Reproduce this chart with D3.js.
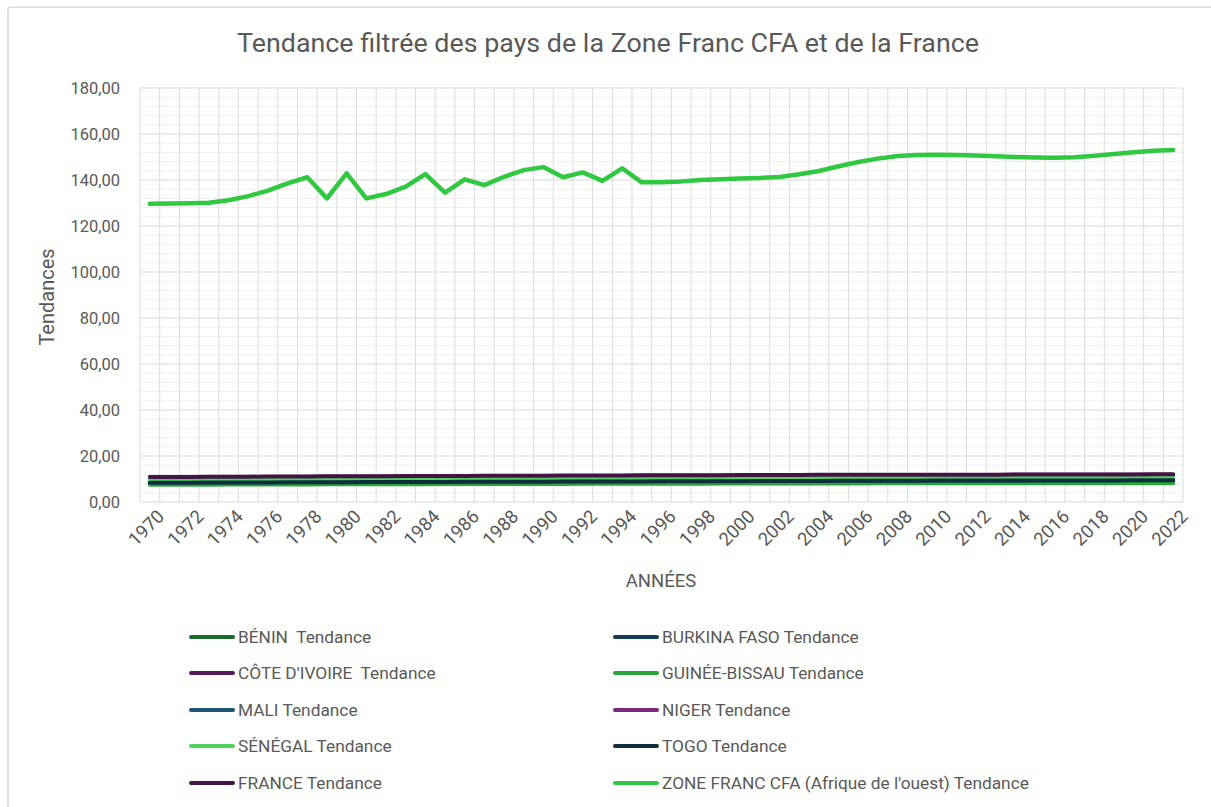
<!DOCTYPE html>
<html><head><meta charset="utf-8">
<script src="https://cdn.jsdelivr.net/npm/d3@7/dist/d3.min.js"></script>
<style>body{margin:0;background:#fff;}svg{display:block;font-family:Roboto,"Open Sans",sans-serif;}</style>
</head><body><svg id="c" width="1211" height="807"></svg>
<script>
const years = d3.range(1970, 2023).map(String);
const yTicks = [0,20,40,60,80,100,120,140,160,180];
const xTickLabels = years.filter((y,i)=>i%2===0);

const zone = [129.7,129.8,129.9,130.1,131.2,133.0,135.4,138.5,141.2,132.0,
142.9,132.0,133.9,137.1,142.6,134.5,140.3,137.8,141.4,144.3,
145.6,141.2,143.3,139.6,145.1,139.0,139.0,139.4,140.0,140.3,
140.6,140.9,141.3,142.5,143.9,146.0,147.8,149.3,150.4,150.9,
151.0,150.9,150.7,150.3,150.0,149.8,149.7,149.9,150.5,151.3,
152.1,152.7,153.0];
const france = [10.9,10.9,10.9,11.0,11.0,11.0,11.1,11.1,11.1,11.2,
11.2,11.2,11.2,11.3,11.3,11.3,11.3,11.4,11.4,11.4,
11.4,11.5,11.5,11.5,11.5,11.6,11.6,11.6,11.6,11.6,
11.7,11.7,11.7,11.7,11.8,11.8,11.8,11.8,11.9,11.9,
11.9,11.9,11.9,11.9,12.0,12.0,12.0,12.0,12.0,12.0,
12.0,12.1,12.1];
const niger = [10.7,10.7,10.7,10.8,10.8,10.8,10.9,10.9,10.9,11.0,
11.0,11.0,11.0,11.1,11.1,11.1,11.1,11.2,11.2,11.2,
11.2,11.3,11.3,11.3,11.3,11.4,11.4,11.4,11.4,11.4,
11.5,11.5,11.5,11.5,11.6,11.6,11.6,11.6,11.7,11.7,
11.7,11.7,11.7,11.7,11.8,11.8,11.8,11.8,11.8,11.8,
11.8,11.9,11.9];
const coteIvoire = [10.5,10.5,10.5,10.6,10.6,10.6,10.7,10.7,10.7,10.8,
10.8,10.8,10.8,10.9,10.9,10.9,10.9,11.0,11.0,11.0,
11.0,11.1,11.1,11.1,11.1,11.2,11.2,11.2,11.2,11.2,
11.3,11.3,11.3,11.3,11.4,11.4,11.4,11.4,11.5,11.5,
11.5,11.5,11.5,11.5,11.6,11.6,11.6,11.6,11.6,11.6,
11.6,11.7,11.7];
const senegal = [9.9,9.9,9.9,9.9,10.0,10.0,10.0,10.0,10.0,10.1,
10.1,10.1,10.1,10.1,10.1,10.2,10.2,10.2,10.2,10.2,
10.2,10.3,10.3,10.3,10.3,10.3,10.3,10.3,10.4,10.4,
10.4,10.4,10.4,10.4,10.4,10.5,10.5,10.5,10.5,10.5,
10.5,10.5,10.5,10.5,10.6,10.6,10.6,10.6,10.6,10.6,
10.6,10.6,10.6];
const mali = [8.5,8.5,8.5,8.6,8.6,8.6,8.6,8.7,8.7,8.7,
8.7,8.8,8.8,8.8,8.8,8.8,8.9,8.9,8.9,8.9,
8.9,9.0,9.0,9.0,9.0,9.0,9.1,9.1,9.1,9.1,
9.1,9.2,9.2,9.2,9.2,9.3,9.3,9.3,9.3,9.3,
9.4,9.4,9.4,9.4,9.4,9.5,9.5,9.5,9.5,9.5,
9.6,9.6,9.6];
const togo = [8.4,8.4,8.4,8.5,8.5,8.5,8.5,8.6,8.6,8.6,
8.6,8.7,8.7,8.7,8.7,8.7,8.8,8.8,8.8,8.8,
8.8,8.9,8.9,8.9,8.9,8.9,9.0,9.0,9.0,9.0,
9.0,9.1,9.1,9.1,9.1,9.2,9.2,9.2,9.2,9.2,
9.3,9.3,9.3,9.3,9.3,9.4,9.4,9.4,9.4,9.4,
9.5,9.5,9.5];
const burkina = [8.3,8.3,8.3,8.4,8.4,8.4,8.4,8.5,8.5,8.5,
8.5,8.6,8.6,8.6,8.6,8.6,8.7,8.7,8.7,8.7,
8.7,8.8,8.8,8.8,8.8,8.8,8.9,8.9,8.9,8.9,
8.9,9.0,9.0,9.0,9.0,9.1,9.1,9.1,9.1,9.1,
9.2,9.2,9.2,9.2,9.2,9.3,9.3,9.3,9.3,9.3,
9.4,9.4,9.4];
const benin = [8.0,8.0,8.0,8.1,8.1,8.1,8.1,8.2,8.2,8.2,
8.2,8.3,8.3,8.3,8.3,8.3,8.4,8.4,8.4,8.4,
8.4,8.5,8.5,8.5,8.5,8.5,8.6,8.6,8.6,8.6,
8.6,8.7,8.7,8.7,8.7,8.7,8.8,8.8,8.8,8.8,
8.8,8.8,8.8,8.9,8.9,8.9,8.9,8.9,8.9,8.9,
8.9,8.9,8.9];
const guineeBissau = [7.5,7.5,7.5,7.5,7.6,7.6,7.6,7.6,7.6,7.7,
7.7,7.7,7.7,7.7,7.7,7.8,7.8,7.8,7.8,7.8,
7.8,7.8,7.9,7.9,7.9,7.9,7.9,7.9,7.9,8.0,
8.0,8.0,8.0,8.0,8.0,8.0,8.0,8.1,8.1,8.1,
8.1,8.1,8.1,8.1,8.1,8.1,8.2,8.2,8.2,8.2,
8.2,8.2,8.2];

const seriesNames = ["BÉNIN  Tendance","BURKINA FASO Tendance","CÔTE D'IVOIRE  Tendance","GUINÉE-BISSAU Tendance","MALI Tendance","NIGER Tendance","SÉNÉGAL Tendance","TOGO Tendance","FRANCE Tendance","ZONE FRANC CFA (Afrique de l'ouest) Tendance"];
const seriesValues = [benin,burkina,coteIvoire,guineeBissau,mali,niger,senegal,togo,france,zone];
const seriesColors = ["#1d6b2c","#153c52","#5a1a5a","#2aa638","#1a5673","#7a2a7c","#4fd15e","#0f2f3f","#431446","#2fc840"];

const svg = d3.select("#c");
svg.append("rect").attr("x",8).attr("y",7).attr("width",1210).attr("height",820)
  .attr("fill","#fff").attr("stroke","#d9d9d9").attr("stroke-width",1.5).attr("rx",3);

const L=140, R=1183, T=88, B=502;
const x = d3.scaleBand().domain(years).range([L,R]);
const y = d3.scaleLinear().domain([0,180]).range([B,T]);
const grid = svg.append("g");
grid.selectAll("line.mn").data(d3.range(0,181,4).filter(v=>v%20!==0)).join("line")
  .attr("x1",L).attr("x2",R).attr("y1",d=>y(d)).attr("y2",d=>y(d))
  .attr("stroke","#efefef").attr("stroke-width",1);
grid.selectAll("line.v").data(years.map(d=>x(d)).concat([R])).join("line")
  .attr("x1",d=>d).attr("x2",d=>d).attr("y1",T).attr("y2",B)
  .attr("stroke","#dcdcdc").attr("stroke-width",1);
grid.selectAll("line.mj").data(yTicks).join("line")
  .attr("x1",L).attr("x2",R).attr("y1",d=>y(d)).attr("y2",d=>y(d))
  .attr("stroke","#d9d9d9").attr("stroke-width",1.2);

const txt = "#595959";
const fmt = d => d.toFixed(2).replace(".", ",");
const yAxis = svg.append("g").attr("transform",`translate(${L},0)`)
  .call(d3.axisLeft(y).tickValues(yTicks).tickFormat(fmt).tickSize(0).tickPadding(20));
yAxis.select(".domain").remove();
yAxis.selectAll("text").attr("fill",txt).style("font-size","16.5px").style("font-family","Roboto");

const xAxis = svg.append("g").attr("transform",`translate(0,${B})`)
  .call(d3.axisBottom(x).tickValues(xTickLabels).tickSize(0));
xAxis.select(".domain").remove();
xAxis.selectAll("text").attr("fill",txt).style("font-size","18.5px").style("font-family","Roboto")
  .attr("text-anchor","end").attr("transform","translate(11,11) rotate(-45)").attr("dy","0.35em").attr("y",0);

const line = d3.line().x((d,i)=>x(years[i])+x.bandwidth()/2).y(d=>y(d));
svg.append("g").selectAll("path").data(seriesValues).join("path")
  .attr("d",d=>line(d)).attr("fill","none")
  .attr("stroke",(d,i)=>seriesColors[i])
  .attr("stroke-width",(d,i)=>i===9?4.5:4)
  .attr("stroke-linejoin","round").attr("stroke-linecap","round");

svg.append("text").attr("x",608).attr("y",52).attr("text-anchor","middle")
  .attr("fill",txt).style("font-size","25px").style("font-family","Roboto")
  .attr("textLength",742).attr("lengthAdjust","spacingAndGlyphs")
  .text("Tendance filtrée des pays de la Zone Franc CFA et de la France");

svg.append("text").attr("transform","translate(54,297) rotate(-90)").attr("text-anchor","middle")
  .attr("fill",txt).style("font-size","20px").style("font-family","Roboto").text("Tendances");

svg.append("text").attr("x",661).attr("y",587).attr("text-anchor","middle")
  .attr("fill",txt).style("font-size","18.5px").style("font-family","Roboto").text("ANNÉES");

const leg = svg.append("g");
const rows = [637,673,710,746,783];
seriesNames.forEach((n,i)=>{
  const col = i%2, row = Math.floor(i/2);
  const lx = col===0?191:615, ty = rows[row];
  leg.append("line").attr("x1",lx).attr("x2",lx+42).attr("y1",ty).attr("y2",ty)
    .attr("stroke",seriesColors[i]).attr("stroke-width",4).attr("stroke-linecap","round");
  leg.append("text").attr("x",lx+47).attr("y",ty).attr("dy","0.35em").style("white-space","pre")
    .attr("fill",txt).style("font-size","17.3px").style("font-family","Roboto").text(n);
});
</script></body></html>
